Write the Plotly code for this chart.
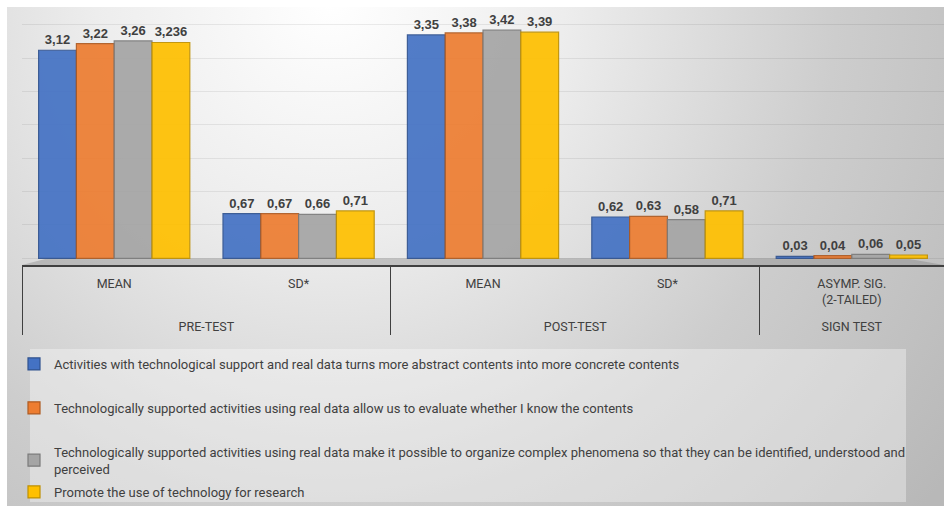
import base64
import plotly.graph_objects as go

# ---------------- data ----------------
outer_cats = ["<br>PRE-TEST", "<br>PRE-TEST", "<br>POST-TEST", "<br>POST-TEST", "<br>SIGN TEST"]
inner_cats = ["MEAN", "SD*", "MEAN", "SD*", "ASYMP. SIG.<br>(2-TAILED)"]

series_names = [
    "Activities with technological support and real data turns more abstract contents into more concrete contents",
    "Technologically supported activities using real data allow us to evaluate whether I know the contents",
    "Technologically supported activities using real data make it possible to organize complex phenomena so that they can be identified, understood and<br>perceived",
    "Promote the use of technology for research",
]
s1 = [3.12, 0.67, 3.35, 0.62, 0.03]
s2 = [3.22, 0.67, 3.38, 0.63, 0.04]
s3 = [3.26, 0.66, 3.42, 0.58, 0.06]
s4 = [3.236, 0.71, 3.39, 0.71, 0.05]
series_values = [s1, s2, s3, s4]
series_legend = ["legend", "legend", "legend", "legend2"]

colors = ["#4472C4", "#ED7D31", "#A5A5A5", "#FFC000"]
edge_colors = ["#2F528F", "#AE5A21", "#7B7B7B", "#BF9000"]

FONT = "Liberation Sans Narrow, Arial Narrow, Roboto, sans-serif"

# ---------------- figure geometry ----------------
W, H = 944, 506
ML, MR, MT, MB = 22, 0, 10, 241
PW, PH = W - ML - MR, H - MT - MB
AXIS_Y = MT + PH  # pixel row of the category axis
PX_PER_UNIT = 66.7
FLOOR = 0.1  # depth of the floor band, in value units


def py(px_y):
    """pixel row -> paper y"""
    return (AXIS_Y - px_y) / PH


def px(px_x):
    return (px_x - ML) / PW


fig = go.Figure()
for name, vals, c, ec, lg in zip(series_names, series_values, colors, edge_colors, series_legend):
    fig.add_trace(go.Bar(
        x=[outer_cats, inner_cats],
        y=vals,
        name=name,
        legend=lg,
        legendgroup=name,
        marker=dict(color=c, line=dict(color=ec, width=1.2), opacity=0.92),
        text=[str(v).replace(".", ",") for v in vals],
        textposition="outside",
        textfont=dict(family="Liberation Sans, Arial, sans-serif", size=13, color="#404040", weight="bold"),
        cliponaxis=False,
    ))

# background gradient as an SVG image
svg = f'''<svg xmlns="http://www.w3.org/2000/svg" width="{W}" height="{H}" viewBox="0 0 {W} {H}" preserveAspectRatio="none">
<defs><radialGradient id="g" gradientUnits="userSpaceOnUse" cx="330" cy="0" r="780">
<stop offset="0" stop-color="#ffffff"/><stop offset="0.3" stop-color="#ededed"/>
<stop offset="0.65" stop-color="#cdcdcd"/><stop offset="1" stop-color="#b8b8b8"/></radialGradient></defs>
<rect x="0" y="0" width="{W}" height="{H}" fill="#ffffff"/>
<rect x="7" y="7" width="{W-7}" height="{H-7}" fill="url(#g)"/>
</svg>'''
src = "data:image/svg+xml;base64," + base64.b64encode(svg.encode()).decode()

fig.add_layout_image(dict(
    source=src, xref="paper", yref="paper",
    x=-ML / PW, y=1 + MT / PH, sizex=W / PW, sizey=H / PH,
    xanchor="left", yanchor="top", sizing="stretch", layer="below",
))

# floor band of the (pseudo 3-D) chart
floor_top = AXIS_Y - FLOOR * PX_PER_UNIT
fig.add_shape(type="path", xref="paper", yref="paper",
              path=(f"M {px(22)},{py(AXIS_Y)} L {px(48)},{py(floor_top)} "
                    f"L {px(905)},{py(floor_top)} L {px(944)},{py(AXIS_Y)} Z"),
              fillcolor="rgba(120,120,120,0.35)", line=dict(width=0), layer="below")

# legend box
fig.add_shape(type="rect", xref="paper", yref="paper",
              x0=px(30), x1=px(906), y0=py(349), y1=py(502),
              fillcolor="rgba(255,255,255,0.35)", line=dict(width=0), layer="below")

legend_common = dict(
    xanchor="left", yanchor="top", orientation="v",
    bgcolor="rgba(0,0,0,0)",
    font=dict(family=FONT, size=13, color="#404040"),
    itemwidth=30,
)

fig.update_layout(
    width=W, height=H,
    margin=dict(l=ML, r=MR, t=MT, b=MB, autoexpand=False),
    paper_bgcolor="#d8d8d8",
    plot_bgcolor="rgba(0,0,0,0)",
    barmode="group",
    bargap=0.18,
    bargroupgap=0.0,
    showlegend=True,
    legend=dict(x=px(14), y=py(349), tracegroupgap=24, **legend_common),
    legend2=dict(x=px(14), y=py(477), **legend_common),
    xaxis=dict(
        type="multicategory",
        showline=True, linecolor="#404040", linewidth=1.5,
        showdividers=True, dividercolor="#404040", dividerwidth=1,
        tickfont=dict(family=FONT, size=12.5, color="#404040"),
        ticks="",
        ticklabelstandoff=6,
    ),
    yaxis=dict(
        range=[-FLOOR, PH / PX_PER_UNIT - FLOOR],
        showticklabels=False,
        showgrid=True, gridcolor="rgba(0,0,0,0.07)", dtick=0.5,
        zeroline=False, showline=False,
    ),
)

fig.write_html("out.html")
